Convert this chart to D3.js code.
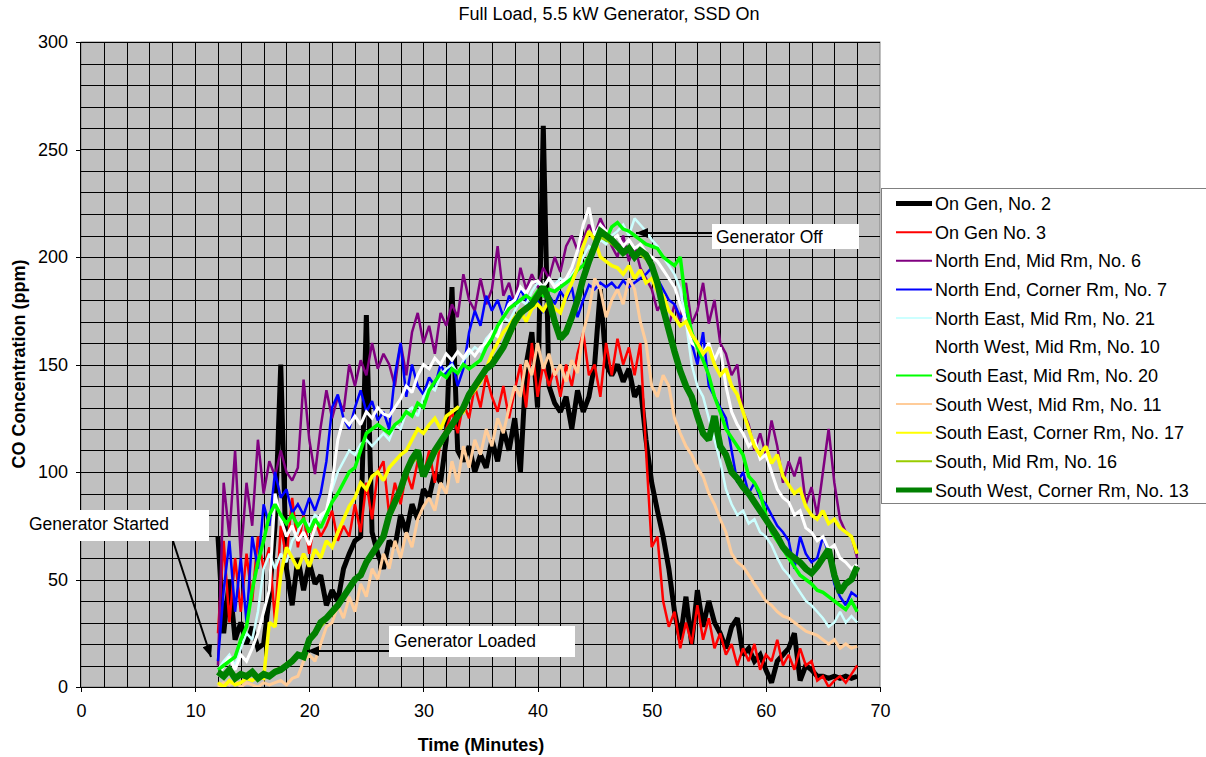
<!DOCTYPE html>
<html><head><meta charset="utf-8">
<script src="https://cdn.jsdelivr.net/npm/d3@7"></script>
<style>
body{margin:0;background:#fff;}
text{font-family:"Liberation Sans",Arial,sans-serif;fill:#000;}
</style>
</head><body>
<svg id="chart" width="1206" height="757"></svg>
<script>
// ---- data ----
const title = "Full Load, 5.5 kW Generator, SSD On";
const xTicks = [0,10,20,30,40,50,60,70];
const yTicks = [0,50,100,150,200,250,300];
const minutes = [
12,12.5,13,13.5,14,14.5,15,15.5,16,16.5,
17,17.5,18,18.5,19,19.5,20,20.5,21,21.5,
22,22.5,23,23.5,24,24.5,25,25.5,26,26.5,
27,27.5,28,28.5,29,29.5,30,30.5,31,31.5,
32,32.5,33,33.5,34,34.5,35,35.5,36,36.5,
37,37.5,38,38.5,39,39.5,40,40.5,41,41.5,
42,42.5,43,43.5,44,44.5,45,45.5,46,46.5,
47,47.5,48,48.5,49,49.5,50,50.5,51,51.5,
52,52.5,53,53.5,54,54.5,55,55.5,56,56.5,
57,57.5,58,58.5,59,59.5,60,60.5,61,61.5,
62,62.5,63,63.5,64,64.5,65,65.5,66,66.5,
67,67.5,68];
const onGen2 = [
70,25,50,22,30,20,28,18,20,42,
75,150,55,38,60,45,58,48,52,38,
45,40,55,62,68,70,173,72,62,55,
68,65,80,72,85,78,92,88,100,95,
115,186,110,105,112,100,108,102,115,105,
120,110,125,100,150,165,130,261,140,132,
128,135,120,138,128,135,150,185,150,145,
150,142,148,135,140,115,95,82,70,55,
35,22,42,20,45,28,40,30,25,18,
28,32,15,18,12,15,8,2,12,15,
18,25,3,10,8,5,5,4,5,4,
5,4,5];
const onGen3 = [
25,68,30,60,35,62,40,70,55,65,
30,75,60,88,65,80,62,78,70,75,
82,68,75,70,85,72,95,78,100,105,
80,95,85,100,92,105,98,110,95,115,
120,128,118,132,125,140,130,145,135,128,
140,125,138,150,130,160,135,150,140,148,
135,150,140,155,165,145,150,135,160,145,
162,150,158,145,160,110,65,70,40,28,
35,18,30,20,38,22,32,18,25,15,
20,10,18,12,20,8,15,12,22,10,
15,8,18,10,12,3,5,0,3,5,
2,6,10];
const northEndMid6 = [
10,95,70,110,60,95,75,115,90,105,
98,110,100,96,102,143,115,99,121,138,
125,135,128,150,140,152,145,160,148,155,
150,140,160,145,165,174,160,168,155,174,
168,178,172,192,180,175,190,178,185,205,
182,188,178,195,185,192,186,195,190,200,
193,205,210,203,208,215,210,218,212,205,
200,210,198,205,195,190,185,175,180,168,
178,170,188,169,175,188,169,180,160,155,
145,150,128,122,110,118,108,124,112,95,
105,98,107,85,93,80,100,120,95,78,
72,70,60];
const northEndCorner7 = [
12,45,68,35,60,30,70,55,85,75,
100,88,92,81,85,80,88,82,90,105,
130,136,125,120,130,138,128,133,124,128,
120,145,160,135,150,140,136,144,140,150,
145,152,140,148,165,175,168,182,175,180,
172,182,178,185,180,176,180,174,182,178,
184,180,186,172,180,187,185,188,186,188,
185,189,186,188,190,192,195,190,185,180,
178,172,174,160,150,165,140,135,130,125,
110,95,100,90,95,88,85,80,75,72,
68,55,70,62,58,60,70,62,48,42,
38,44,42];
const northEastMid21 = [
8,12,15,10,18,25,22,35,55,62,
55,62,58,68,72,78,75,80,78,82,
92,100,105,110,108,113,115,112,115,118,
115,122,120,128,130,126,135,140,138,145,
148,150,146,152,155,158,156,162,165,168,
172,170,175,180,178,184,188,186,190,187,
190,188,192,195,200,205,203,208,206,210,
212,215,210,218,215,212,208,205,200,196,
192,185,170,150,140,135,125,115,105,92,
85,80,82,76,78,72,70,66,60,55,
52,48,44,40,38,35,32,28,30,35,
30,33,30];
const northWestMid10 = [
5,10,14,8,15,12,18,25,35,45,
90,78,70,75,68,72,66,74,80,82,
95,115,125,122,126,122,128,125,130,127,
126,130,134,140,137,145,150,148,153,150,
155,152,156,153,157,154,158,160,165,163,
172,178,180,186,183,188,189,186,190,186,
188,190,195,203,215,223,210,215,212,208,
210,205,208,204,206,202,200,198,194,190,
186,178,170,160,158,155,160,152,158,140,
128,122,118,112,115,106,108,100,92,88,
86,80,82,74,72,68,70,64,66,60,
58,55,57];
const southEastMid20 = [
8,10,12,14,22,28,45,58,68,80,
85,80,76,80,75,78,72,78,74,80,
86,90,95,100,102,110,118,120,122,120,
118,122,124,128,126,132,130,138,142,146,
144,148,146,150,148,150,152,158,162,168,
172,176,178,180,182,180,184,182,185,184,
186,188,190,194,196,200,205,210,208,214,
216,213,212,210,208,206,205,204,200,198,
196,200,178,165,158,152,145,135,128,120,
116,112,108,98,95,90,80,72,68,64,
60,56,52,50,48,45,44,42,40,38,
36,40,35];
const southWestMid11 = [
0,2,1,3,0,2,1,0,2,1,
2,3,1,4,5,12,15,12,20,28,
30,38,32,42,35,48,42,55,50,62,
55,68,60,72,65,78,84,88,82,95,
90,105,95,112,102,115,108,120,112,125,
118,130,140,135,152,145,160,148,155,145,
150,142,152,146,165,175,190,185,172,180,
185,178,190,185,170,160,140,135,145,140,
125,118,112,108,102,98,90,85,78,72,
62,58,56,52,48,44,40,38,35,33,
32,30,28,26,25,24,22,20,22,18,
20,18,19];
const southEastCorner17 = [
2,0,3,1,2,4,3,5,4,30,
28,52,65,60,55,62,56,64,60,68,
65,72,78,84,88,95,92,98,100,96,
102,105,108,110,115,120,118,122,125,120,
126,128,130,128,135,138,142,148,155,160,
165,168,172,175,170,176,178,175,180,176,
174,182,188,195,205,212,208,200,198,196,
195,192,196,190,194,188,190,184,182,175,
172,168,170,164,160,155,158,150,145,148,
140,136,128,120,112,108,112,104,108,98,
94,90,92,84,80,78,82,76,78,74,
72,70,62];
const southMid16 = [
6,5,7,5,6,4,6,5,7,6,
8,9,11,13,15,16,21,24,28,31,
34,37,41,45,49,53,57,61,65,69,
78,84,90,98,104,107,100,104,108,112,
117,121,125,129,134,139,143,147,150,153,
157,162,168,172,175,177,181,184,179,171,
164,166,172,180,189,196,203,209,208,206,
204,202,203,200,201,199,195,187,176,165,
155,146,139,133,125,118,116,122,111,106,
100,96,92,89,85,81,77,73,69,65,
61,59,57,55,53,55,59,62,51,45,
47,50,54];
const southWestCorner13 = [
7,5,8,4,6,5,7,4,6,5,
7,8,10,12,15,14,22,25,30,32,
35,38,42,46,50,52,58,62,66,70,
80,86,92,100,106,110,98,104,110,114,
118,122,126,130,136,140,144,148,150,154,
158,164,170,174,176,178,182,186,180,170,
162,165,172,180,190,198,205,212,210,208,
205,202,204,200,203,201,196,188,176,166,
156,147,140,135,126,118,115,126,112,108,
100,97,93,90,86,82,78,74,70,65,
62,60,58,55,53,56,60,64,52,44,
48,50,56];

const seriesNames = [
 "On Gen, No. 2","On Gen No. 3","North End, Mid Rm, No. 6","North End, Corner Rm, No. 7",
 "North East, Mid Rm, No. 21","North West, Mid Rm, No. 10","South East, Mid Rm, No. 20",
 "South West, Mid Rm, No. 11","South East, Corner Rm, No. 17","South, Mid Rm, No. 16",
 "South West, Corner Rm, No. 13"];
const seriesValues = [onGen2,onGen3,northEndMid6,northEndCorner7,northEastMid21,northWestMid10,
 southEastMid20,southWestMid11,southEastCorner17,southMid16,southWestCorner13];
const seriesColors = ["#000000","#ff0000","#800080","#0000ff","#ccffff","#ffffff",
 "#00ff00","#ffcc99","#ffff00","#99cc00","#008000"];
const seriesWidths = [5,2.5,2.5,2.5,2.5,3,3.5,3,3.5,2.5,6.5];
const legendWidths = [5,2,2,2,2,2,2,2,2,2,5];

// ---- layout ----
const svg = d3.select("#chart");
const L=81, R=880, T=42, B=687;
const x = d3.scaleLinear().domain([0,70]).range([L,R]);
const y = d3.scaleLinear().domain([0,300]).range([B,T]);

svg.append("rect").attr("x",0).attr("y",0).attr("width",1206).attr("height",757).attr("fill","#fff");
svg.append("rect").attr("x",L).attr("y",T).attr("width",R-L).attr("height",B-T)
  .attr("fill","#c0c0c0").attr("stroke","#808080").attr("stroke-width",1);

// grid
const grid = svg.append("g").attr("shape-rendering","crispEdges");
grid.selectAll("line.v").data(d3.range(2,70,2)).join("line")
  .attr("x1",d=>Math.round(x(d))+0.5).attr("x2",d=>Math.round(x(d))+0.5)
  .attr("y1",T).attr("y2",B).attr("stroke","#000").attr("stroke-width",1);
grid.selectAll("line.h").data(d3.range(10,301,10)).join("line")
  .attr("y1",d=>Math.round(y(d))+0.5).attr("y2",d=>Math.round(y(d))+0.5)
  .attr("x1",L).attr("x2",R).attr("stroke","#000").attr("stroke-width",1);

// series
svg.append("clipPath").attr("id","clip").append("rect")
  .attr("x",L).attr("y",T).attr("width",R-L).attr("height",B-T);
const line = d3.line().x((d,i)=>x(minutes[i])).y(d=>y(d));
const plot = svg.append("g").attr("clip-path","url(#clip)");
seriesValues.forEach((vals,k)=>{
  plot.append("path").attr("d",line(vals)).attr("fill","none")
    .attr("stroke",seriesColors[k]).attr("stroke-width",seriesWidths[k])
    .attr("stroke-linejoin","miter").attr("stroke-miterlimit",2);
});

// axes
const xAxis = svg.append("g").attr("transform",`translate(0,${B})`)
  .call(d3.axisBottom(x).tickValues(xTicks).tickSize(5).tickPadding(12).tickFormat(d3.format("d")));
const yAxis = svg.append("g").attr("transform",`translate(${L},0)`)
  .call(d3.axisLeft(y).tickValues(yTicks).tickSize(5).tickPadding(8).tickFormat(d3.format("d")));
[xAxis,yAxis].forEach(a=>{
  a.selectAll("path,line").attr("stroke","#000").attr("shape-rendering","crispEdges");
  a.selectAll("text").attr("font-size",18).attr("font-family","Liberation Sans, Arial, sans-serif").attr("fill","#000");
});
xAxis.select(".domain").attr("d",`M${L},0.5H${R}`);
yAxis.select(".domain").attr("d",`M-0.5,${T}V${B}`);

// titles
svg.append("text").attr("x",609).attr("y",20).attr("text-anchor","middle")
  .attr("font-size",18).text(title);
svg.append("text").attr("x",481).attr("y",751).attr("text-anchor","middle")
  .attr("font-size",18).attr("font-weight","bold").text("Time (Minutes)");
svg.append("text").attr("transform",`translate(25,364) rotate(-90)`).attr("text-anchor","middle")
  .attr("font-size",18).attr("font-weight","bold").text("CO Concentration (ppm)");

// legend
const lg = svg.append("g");
lg.append("rect").attr("x",881.5).attr("y",188.5).attr("width",340).attr("height",315)
  .attr("fill","#fff").attr("stroke","#808080").attr("stroke-width",1);
seriesNames.forEach((name,k)=>{
  const cy = 203.5 + k*28.65;
  lg.append("line").attr("x1",896).attr("x2",932).attr("y1",cy).attr("y2",cy)
    .attr("stroke",seriesColors[k]).attr("stroke-width",legendWidths[k]);
  lg.append("text").attr("x",935).attr("y",cy+6.5).attr("font-size",18).text(name);
});

// annotations
const defs = svg.append("defs");
defs.append("marker").attr("id","arr").attr("viewBox","0 0 12 10").attr("refX",12).attr("refY",5)
  .attr("markerWidth",12).attr("markerHeight",10).attr("markerUnits","userSpaceOnUse").attr("orient","auto")
  .append("path").attr("d","M0,0L12,5L0,10Z").attr("fill","#000");
function note(bx,by,bw,bh,label,tx,ty,ax1,ay1,ax2,ay2){
  svg.append("line").attr("x1",ax1).attr("y1",ay1).attr("x2",ax2).attr("y2",ay2)
    .attr("stroke","#000").attr("stroke-width",2).attr("marker-end","url(#arr)");
  svg.append("rect").attr("x",bx).attr("y",by).attr("width",bw).attr("height",bh).attr("fill","#fff");
  svg.append("text").attr("x",tx).attr("y",ty).attr("font-size",17.5).text(label);
}
note(20,510,189,31,"Generator Started",29,530,173,541,211,657);
note(389,626,186,31,"Generator Loaded",394,647,389,651,307,651);
note(712,224,147,25,"Generator Off",716,243,712,233,636,233);
</script>
</body></html>
